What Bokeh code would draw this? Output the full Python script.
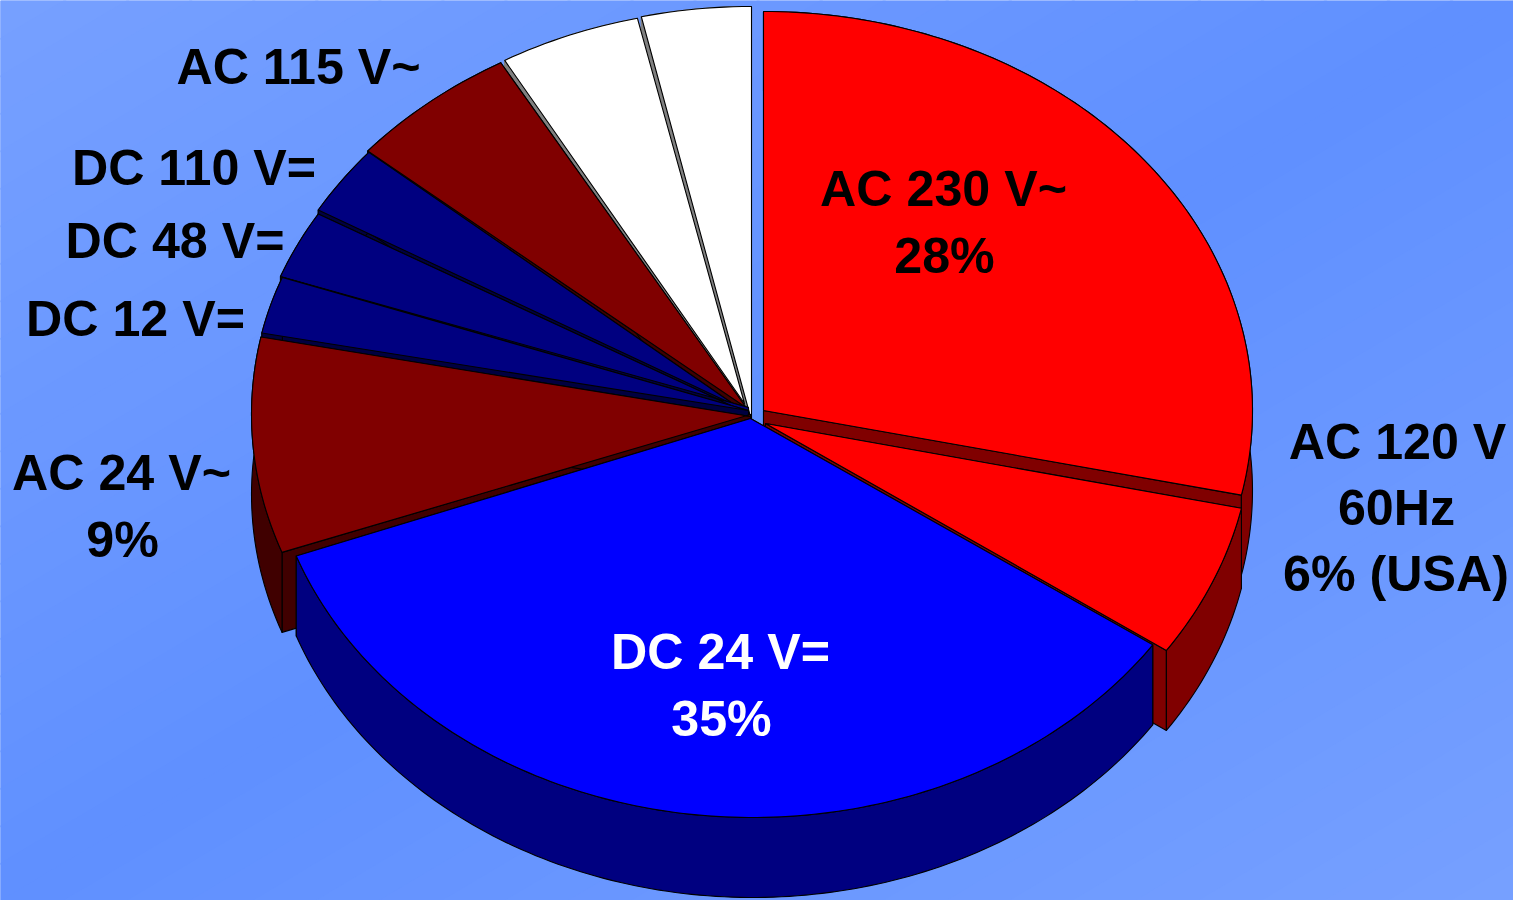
import numpy as np
from bokeh.plotting import figure
from bokeh.core.properties import value
from bokeh.embed import file_html
from bokeh.resources import INLINE

# Slices clockwise from twelve o'clock (share of the whole, %)
slice_names = ["AC 230 V~", "AC 120 V 60Hz", "DC 24 V=", "AC 24 V~", "DC 12 V=", "DC 48 V=",
               "DC 110 V=", "AC 115 V~", "other 1", "other 2"]
slice_values = [28.4, 6.2, 34.8, 8.7, 2.45, 2.85, 2.8, 5.55, 4.7, 3.55]
top_colors = ["#ff0000", "#ff0000", "#0000ff", "#800000", "#000080", "#000080",
              "#000080", "#800000", "#ffffff", "#ffffff"]
side_colors = ["#800000", "#800000", "#000080", "#400000", "#000040", "#000040",
               "#000040", "#400000", "#808080", "#808080"]
side_lines = ["black"] * 8 + ["#808080", "#808080"]
draw_order = [9, 8, 7, 6, 5, 4, 3, 0, 1, 2]

# Projected geometry of every exploded slice
apex_x = [763, 765, 750, 750, 748, 748, 748, 747, 744, 751]
apex_y_start = [410, 423, 418, 414, 410, 407, 411, 408, 403, 420]
apex_y_end = [410, 423, 418, 416, 410, 413, 414, 409, 403, 420]
center_x = [763, 764, 752, 749, 748, 748, 748, 747, 744, 751]
center_y = [410, 423, 418, 414, 405, 408, 412, 408, 403, 420]
radius_x = [489, 488, 486, 498, 496, 498, 498, 498, 484, 498]
radius_y = [399, 400, 399, 400, 375, 386, 402, 398, 395, 414]
depth = 80

label_lines = ["AC 230 V~", "28%", "AC 120 V", "60Hz", "6% (USA)", "DC 24 V=", "35%",
               "AC 24 V~", "9%", "DC 12 V=", "DC 48 V=", "DC 110 V=", "AC 115 V~"]
label_x = [943, 944, 1397, 1396, 1395.5, 720, 721, 121, 122, 135, 174.5, 193.5, 298]
label_y = [188, 255, 441, 507, 573, 651, 718, 472, 539, 318, 240, 167, 66]
label_colors = ["black"] * 5 + ["white"] * 2 + ["black"] * 6

W, H = 1513, 900
p = figure(width=W, height=H, x_range=(0, W), y_range=(H, 0), toolbar_location=None,
           output_backend="svg", min_border=0, outline_line_color=None,
           background_fill_color="#6090ff")
p.axis.visible = False
p.grid.visible = False

# Diagonal backdrop: light at top-left and bottom-right, darker through the middle
bands = 48
bx, by, bc = [], [], []
light = np.array([118, 160, 255])
dark = np.array([96, 144, 255])
for k in range(bands):
    a, b = 2 * k / bands, 2 * (k + 1) / bands + 0.002
    bx.append([a * W, b * W, -W, -W])
    by.append([0, 0, b * H + H, a * H + H])
    m = abs((k + 0.5) / bands * 2 - 1)
    c = dark + (light - dark) * m
    bc.append("#%02x%02x%02x" % tuple(int(round(v)) for v in c))
p.patches(bx, by, fill_color=bc, line_color=None)

bounds = np.concatenate([[0], np.cumsum(slice_values)]) / sum(slice_values) * 2 * np.pi
xs, ys, fills, lines = [], [], [], []
for i in draw_order:
    t = np.linspace(bounds[i], bounds[i + 1], max(4, int((bounds[i + 1] - bounds[i]) * 60)))
    ax, a0, a1 = apex_x[i], apex_y_start[i], apex_y_end[i]
    ox = center_x[i] + radius_x[i] * np.sin(t)
    oy = center_y[i] - radius_y[i] * np.cos(t)
    # radial faces
    for e, ay in ((0, a0), (-1, a1)):
        xs.append([ax, ox[e], ox[e], ax])
        ys.append([ay, oy[e], oy[e] + depth, ay + depth])
        fills.append(side_colors[i])
        lines.append(side_lines[i])
    # outer wall
    xs.append(list(ox) + list(ox[::-1]))
    ys.append(list(oy) + list(oy[::-1] + depth))
    fills.append(side_colors[i])
    lines.append(side_lines[i])
    # top face
    xs.append([ax, ax] + list(ox))
    ys.append([a1, a0] + list(oy))
    fills.append(top_colors[i])
    lines.append("black")
p.patches(xs, ys, fill_color=fills, line_color=lines, line_width=1.1, line_join="round")

p.text(label_x, label_y, text=label_lines, text_color=label_colors, text_align="center",
       text_baseline="alphabetic", text_font=value("Liberation Sans"), text_font_style="bold",
       text_font_size="50.2px")

open("out.html", "w").write(file_html(p, INLINE))
